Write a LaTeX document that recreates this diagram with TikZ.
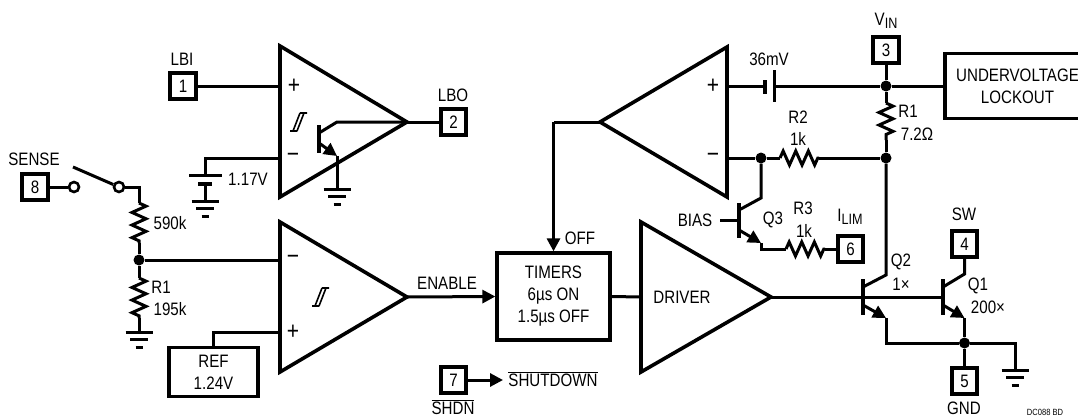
\documentclass[tikz,border=0pt]{standalone}
\usepackage{fontspec}
\setmainfont[FakeStretch=0.84]{Liberation Sans}
\usetikzlibrary{arrows.meta,decorations.pathmorphing,calc}
\newcommand\subsc[1]{\raisebox{-3.5pt}{\fontsize{15}{15}\selectfont #1}}
\tikzset{
  wire/.style={line width=3pt,line join=miter},
  heavy/.style={line width=3.6pt,line join=miter},
  lbl/.style={inner sep=0pt,font=\fontsize{18}{22}\selectfont,align=center},
  sign/.style={inner sep=0pt,font=\fontsize{25}{25}\selectfont},
  pinbox/.style={draw,line width=3.6pt,minimum size=25.5pt,inner sep=0pt,font=\fontsize{18}{22}\selectfont},
  blockbox/.style={draw,line width=3.3pt,inner sep=0pt,align=center,font=\fontsize{18}{22}\selectfont},
  dot/.style={circle,fill=black,inner sep=0pt,minimum size=11pt},
  ring/.style={circle,draw,line width=2.6pt,fill=white,inner sep=0pt,minimum size=10pt},
  resistor/.style={wire,decorate,decoration={zigzag,segment length=12.6pt,amplitude=7pt}},
  fwd/.style={wire,-{Triangle[length=13pt,width=13pt]}},
  gnd/.pic={
    \draw[wire] (-13.5,0) -- (13.5,0);
    \draw[wire] (-9,7.5) -- (9,7.5);
    \draw[wire] (-3.5,15) -- (3.5,15);
  },
  hyst/.pic={
    \draw[line width=1.6pt] (-8,9) -- (-1,9) (-5,9) -- (2,-9) (-1,9) -- (6,-9) (2,-9) -- (9,-9);
  }
}
\begin{document}
\begin{tikzpicture}[x=1pt,y=-1pt]
\clip (0,0) rectangle (1078,418);
\fill[white] (0,0) rectangle (1078,418);

% pins
\node[pinbox] (p1) at (183,86) {1};
\node[pinbox] (p2) at (453.5,122) {2};
\node[pinbox] (p3) at (886,50) {3};
\node[pinbox] (p4) at (964.5,244) {4};
\node[pinbox] (p5) at (964.5,381) {5};
\node[pinbox] (p6) at (850.5,249) {6};
\node[pinbox] (p7) at (453.5,380) {7};
\node[pinbox] (p8) at (35,187) {8};

% blocks
\node[blockbox,minimum width=113pt,minimum height=87pt] (timers) at (553.5,296.5) {TIMERS\\6µs ON\\1.5µs OFF};
\node[blockbox,minimum width=89pt,minimum height=49pt] (ref) at (213.5,372) {REF\\1.24V};
\node[blockbox,minimum width=145pt,minimum height=65pt] (uvlo) at (1017.5,86) {UNDERVOLTAGE\\LOCKOUT};

% amplifiers
\coordinate (a1t) at (280,46); \coordinate (a1b) at (280,197); \coordinate (a1o) at (407,122);
\coordinate (a2t) at (280,222); \coordinate (a2b) at (280,372); \coordinate (a2o) at (407,297);
\coordinate (a3t) at (727,47); \coordinate (a3b) at (727,197); \coordinate (a3o) at (600,122);
\coordinate (a4t) at (641,222); \coordinate (a4b) at (641,372); \coordinate (a4o) at (771,297);
\draw[heavy] (a1t) -- (a1o) -- (a1b) -- cycle;
\draw[heavy] (a2t) -- (a2o) -- (a2b) -- cycle;
\draw[heavy] (a3t) -- (a3o) -- (a3b) -- cycle;
\draw[heavy] (a4t) -- (a4o) -- (a4b) -- cycle;
\pic at (298,122) {hyst};
\pic at (320,297) {hyst};

% amp 1 inputs and output
\coordinate (a1p) at (280,86);
\coordinate (a1m) at (280,158);
\draw[wire] (p1) -- (a1p);
\draw[wire] (a1o) -- (p2);
\coordinate (bat1a) at (205,175); \coordinate (bat1b) at (205,184); \coordinate (g1) at (205,201);
\draw[wire] (a1m) -| (bat1a);
\draw[wire] (189,175) -- (222,175);
\draw[heavy] (198,184) -- (212,184);
\draw[wire] (bat1b) -- (g1);
\pic at (g1) {gnd};

% open-collector transistor in amp 1
\coordinate (t0c) at (337,122); \coordinate (t0e) at (337,156); \coordinate (g2) at (337,189);
\draw[heavy] (319,125) -- (319,153);
\draw[wire] (319,133) -- (t0c) -- (a1o);
\draw[fwd] (319,143) -- (t0e);
\draw[wire] (t0e) -- (g2);
\pic at (g2) {gnd};

% sense divider
\node[ring] (s1) at (74,187) {};
\node[ring] (s2) at (119,187) {};
\coordinate (swt) at (73,167);
\coordinate (c1) at (139,187);
\coordinate (r1t) at (139,203); \coordinate (r1b) at (139,243);
\node[dot] (n1) at (139,260) {};
\coordinate (r2t) at (139,278); \coordinate (r2b) at (139,318);
\coordinate (g3) at (139,332);
\coordinate (a2m) at (280,260);
\coordinate (a2p) at (280,332);
\draw[wire] (p8) -- (s1);
\draw[wire] (swt) -- (s2);
\draw[wire] (s2) -- (c1) -- (r1t);
\draw[resistor] (r1t) -- (r1b);
\draw[wire] (r1b) -- (n1);
\draw[wire] (n1) -- (r2t);
\draw[resistor] (r2t) -- (r2b);
\draw[wire] (r2b) -- (g3);
\pic at (g3) {gnd};
\draw[wire] (n1) -- (a2m);
\draw[wire] (a2p) -| (ref.north);

% enable, off, driver, shutdown
\draw[fwd] (a2o) -- (timers.west);
\coordinate (offc) at (553.5,122);
\draw[wire] (a3o) -- (offc);
\draw[fwd] (offc) -- (timers.north);
\draw[wire] (timers.east) -- (641,297);
\coordinate (shd) at (503,380);
\draw[fwd] (p7) -- (shd);

% top current-sense section
\node[dot] (n3) at (886,86) {};
\node[dot] (n4) at (886,158) {};
\node[dot] (n5) at (761,158) {};
\coordinate (a3p) at (727,86);
\coordinate (a3m) at (727,158);
\coordinate (cap1) at (765,86); \coordinate (cap2) at (774,86);
\draw[wire] (a3p) -- (cap1);
\draw[heavy] (765,80) -- (765,94);
\draw[wire] (774,70) -- (774,102);
\draw[wire] (cap2) -- (n3);
\draw[wire] (n3) -- (uvlo.west);
\draw[wire] (p3) -- (n3);
\coordinate (r1a) at (886,103); \coordinate (r1c) at (886,140);
\draw[wire] (n3) -- (r1a);
\draw[resistor] (r1a) -- (r1c);
\draw[wire] (r1c) -- (n4);
\draw[wire] (a3m) -- (n5);
\coordinate (rh1) at (780,158); \coordinate (rh2) at (819,158);
\draw[wire] (n5) -- (rh1);
\draw[resistor] (rh1) -- (rh2);
\draw[wire] (rh2) -- (n4);

% Q3
\coordinate (q3c) at (761,198);
\coordinate (q3e) at (761,243);
\coordinate (q3k) at (761,249);
\coordinate (q3base) at (739,220);
\coordinate (biasl) at (720,220);
\coordinate (r3a) at (786,249); \coordinate (r3b) at (825,249);
\draw[heavy] (739,203) -- (739,238);
\draw[wire] (biasl) -- (q3base);
\draw[wire] (n5) -- (q3c) -- (739,210);
\draw[fwd] (739,230) -- (q3e);
\draw[wire] (q3e) -- (q3k) -- (r3a);
\draw[resistor] (r3a) -- (r3b);
\draw[wire] (r3b) -- (p6);

% Q2 and Q1
\coordinate (q2c) at (886,275); \coordinate (q2e) at (886,318);
\coordinate (q2k) at (886,343);
\coordinate (q1c) at (964.5,274); \coordinate (q1e) at (964.5,318);
\coordinate (q1base) at (943,297);
\node[dot] (n6) at (964.5,343) {};
\coordinate (g4) at (1015,370);
\draw[wire] (a4o) -- (q1base);
\draw[heavy] (863,279) -- (863,315);
\draw[heavy] (943,279) -- (943,315);
\draw[wire] (n4) -- (q2c) -- (863,287);
\draw[fwd] (863,305) -- (q2e);
\draw[wire] (q2e) -- (q2k) -- (n6);
\draw[wire] (p4) -- (q1c) -- (943,287);
\draw[fwd] (943,305) -- (q1e);
\draw[wire] (q1e) -- (n6);
\draw[wire] (n6) -- (p5);
\draw[wire] (n6) -| (g4);
\pic at (g4) {gnd};

% labels
\node[lbl] (tlbi) at (182,59) {LBI};
\node[lbl] (tlbo) at (453,95) {LBO};
\node[lbl] (tsense) at (34,159) {SENSE};
\node[lbl] (t117) at (248,179) {1.17V};
\node[lbl] (t590) at (170,223) {590k};
\node[lbl] (tr1a) at (161,287) {R1};
\node[lbl] (t195) at (170,309) {195k};
\node[lbl] (tenable) at (447,283) {ENABLE};
\node[lbl] (toff) at (580,238) {OFF};
\node[lbl] (tdriver) at (682,297) {DRIVER};
\node[lbl,anchor=base] (tshutdown) at (553,386.5) {$\overline{\hbox{SHUTDOWN}}$};
\node[lbl,anchor=base] (tshdn) at (453,414.5) {$\overline{\hbox{SHDN}}$};
\node[lbl] (tvin) at (886,21) {V\subsc{IN}};
\node[lbl] (t36) at (769,59) {36mV};
\node[lbl] (tr2) at (798,117) {R2};
\node[lbl] (t1k) at (798,139) {1k};
\node[lbl] (tr1b) at (908,111) {R1};
\node[lbl] (t72) at (917,134) {7.2Ω};
\node[lbl] (tbias) at (695,220) {BIAS};
\node[lbl] (tq3) at (773,220) {Q3};
\node[lbl] (tr3) at (803,208) {R3};
\node[lbl] (t1kb) at (804,231) {1k};
\node[lbl] (tilim) at (850,217) {I\subsc{LIM}};
\node[lbl] (tq2) at (901,262) {Q2};
\node[lbl] (t1x) at (901,284) {1×};
\node[lbl] (tsw) at (964,214) {SW};
\node[lbl] (tq1) at (978,286) {Q1};
\node[lbl] (t200) at (988,307) {200×};
\node[lbl,anchor=base] (tgnd) at (964,414.5) {GND};
\node[inner sep=0pt,font=\fontsize{9}{10}\selectfont,anchor=base] (tid) at (1045,415) {DC088 BD};
\node[sign] (ta1p) at (294,86) {+};
\node[sign] (ta1m) at (293,158) {−};
\node[sign] (ta2m) at (293,260) {−};
\node[sign] (ta2p) at (293,332) {+};
\node[sign] (ta3p) at (713,86) {+};
\node[sign] (ta3m) at (713,158) {−};
\end{tikzpicture}
\end{document}
